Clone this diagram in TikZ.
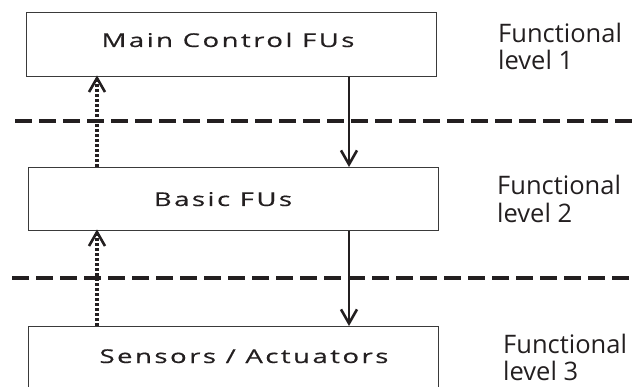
\documentclass[tikz,border=0pt]{standalone}
\usepackage{fontspec}
\setmainfont{Open Sans}
\newfontfamily\boxfont[FakeStretch=1.45, LetterSpace=13, FakeBold=0.5]{Open Sans}
\usetikzlibrary{arrows.meta}

\definecolor{ink}{HTML}{231F20}
\definecolor{frame}{HTML}{3A3A3A}

\tikzset{
  fubox/.style={draw=frame, line width=1.4pt, rectangle, minimum width=410pt,
    minimum height=64pt, inner sep=0pt, anchor=north west},
  futext/.style={text=ink, inner sep=0pt, anchor=base,
    font=\boxfont\fontsize{19}{22}\selectfont},
  lvltext/.style={text=ink, inner sep=0pt, anchor=base west,
    font=\fontsize{25.5}{28}\selectfont},
  levelsep/.style={draw=ink, line width=4pt, dash pattern=on 17pt off 7pt},
  cmdflow/.style={draw=ink, line width=2.6pt,
    -{Straight Barb[length=14pt, width=16pt, line width=2.6pt]}},
  infoflow/.style={draw=ink, line width=3.4pt, dash pattern=on 3pt off 2pt,
    -{Straight Barb[length=14pt, width=16pt, line width=2.6pt]}}
}

\begin{document}
\begin{tikzpicture}[x=1pt, y=-1pt]
  \useasboundingbox (0,0) rectangle (632,387);

  % the three functional levels
  \node[fubox] (main)  at (26,12)  {};
  \node[fubox, minimum height=63pt] (basic) at (28,167) {};
  \node[fubox] (sens)  at (28,326) {};

  \node[futext] (maintxt)  at (228,47)  {Main Control FUs};
  \node[futext] (basictxt) at (223,206) {Basic FUs};
  \node[futext] (senstxt)  at (244,363) {Sensors / Actuators};

  % boundaries between levels
  \coordinate (sepAl) at (15,121);
  \coordinate (sepAr) at (640,121);
  \coordinate (sepBl) at (12,278);
  \coordinate (sepBr) at (640,278);
  \draw[levelsep] (sepAl) -- (sepAr);
  \draw[levelsep] (sepBl) -- (sepBr);

  % vertical flow columns
  \coordinate (down) at (349,0);
  \coordinate (up)   at (97,0);

  \draw[cmdflow]  (main.south -| down)  -- (basic.north -| down);
  \draw[cmdflow]  (basic.south -| down) -- (sens.north -| down);
  \draw[infoflow] (basic.north -| up)   -- ([yshift=2pt]main.south -| up);
  \draw[infoflow] (sens.north -| up)    -- ([yshift=2pt]basic.south -| up);

  % level captions
  \node[lvltext] (l1a) at (498,43)  {Functional};
  \node[lvltext] (l1b) at (498,70)  {level 1};
  \node[lvltext] (l2a) at (497,195) {Functional};
  \node[lvltext] (l2b) at (497,223) {level 2};
  \node[lvltext] (l3a) at (503,354) {Functional};
  \node[lvltext] (l3b) at (503,381) {level 3};
\end{tikzpicture}
\end{document}
